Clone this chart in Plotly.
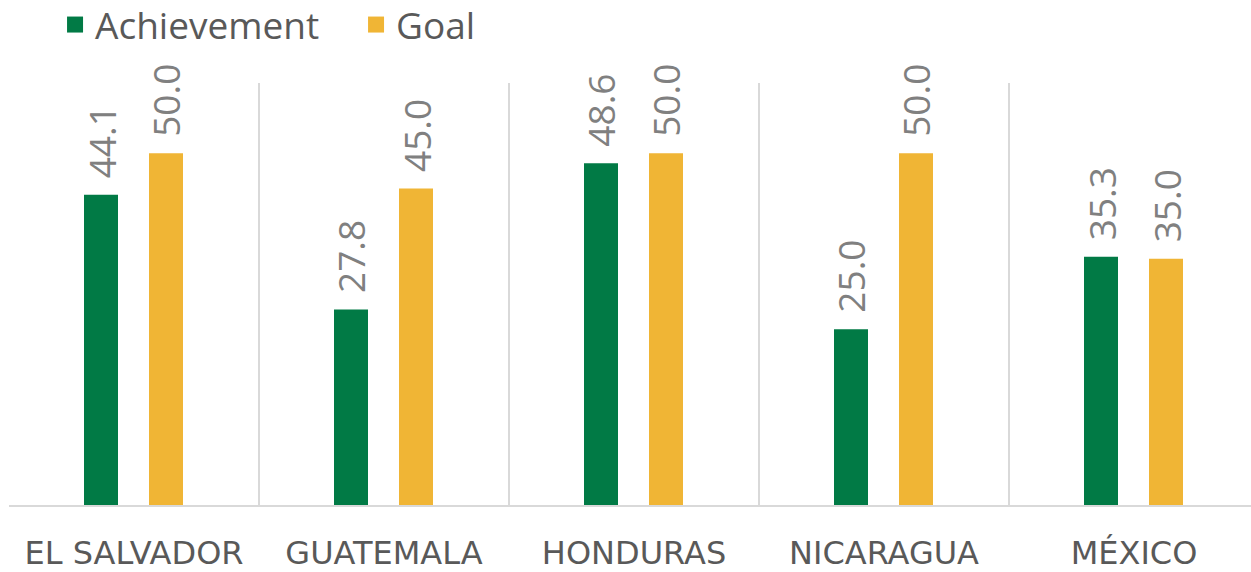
import plotly.graph_objects as go

countries = ["EL SALVADOR", "GUATEMALA", "HONDURAS", "NICARAGUA", "MÉXICO"]
achievement = [44.1, 27.8, 48.6, 25.0, 35.3]
goal = [50.0, 45.0, 50.0, 50.0, 35.0]

GREEN = "#017A45"
GOLD = "#F0B535"
LABEL_GRAY = "#808080"
TEXT_GRAY = "#595959"
GRID = "#D9D9D9"

# bar geometry (in category units)
BAR_W = 0.136
OFF_ACH = -0.2
OFF_GOAL = 0.06

fig = go.Figure()

series = [("Achievement", achievement, GREEN, OFF_ACH),
          ("Goal", goal, GOLD, OFF_GOAL)]

for name, vals, color, off in series:
    fig.add_trace(go.Bar(
        x=countries, y=vals, name=name,
        marker=dict(color=color, line=dict(width=0)),
        width=BAR_W, offset=off, showlegend=False,
    ))
    # legend entry with a larger square swatch
    fig.add_trace(go.Scatter(
        x=[None], y=[None], mode="markers", name=name,
        marker=dict(symbol="square", size=16, color=color),
    ))
    # value labels, rotated, above each bar
    for i, v in enumerate(vals):
        fig.add_annotation(
            x=i + off + BAR_W / 2, y=v, xref="x", yref="y",
            text=f"{v:.1f}", textangle=-90, showarrow=False,
            yanchor="bottom", xanchor="center", yshift=14,
            font=dict(family="Open Sans", size=37, color=LABEL_GRAY),
        )

W, H = 1251, 572
ML, MT, MB, MR = 9, 83, 67, 0
cat_px = 250
plot_w = W - ML - MR

fig.update_layout(
    width=W, height=H,
    margin=dict(l=ML, r=MR, t=MT, b=MB, pad=0, autoexpand=False),
    plot_bgcolor="white", paper_bgcolor="white",
    barmode="overlay",
    legend=dict(
        orientation="h", xref="container", yref="container",
        x=0.044, y=1 - 25 / H, xanchor="left", yanchor="middle",
        font=dict(family="Open Sans", size=37, color=TEXT_GRAY),
        entrywidth=256, entrywidthmode="pixels",
        itemsizing="trace", bgcolor="rgba(0,0,0,0)",
    ),
    xaxis=dict(
        type="category", categoryorder="array", categoryarray=countries,
        range=[-0.5, -0.5 + plot_w / cat_px], automargin=False,
        tickson="boundaries", showgrid=True, gridcolor=GRID, gridwidth=2,
        showline=True, linecolor=GRID, linewidth=2,
        ticks="", ticklabelstandoff=19,
        tickfont=dict(family="DejaVu Sans", size=32, color=TEXT_GRAY),
        zeroline=False,
    ),
    yaxis=dict(
        range=[0, 60], showgrid=False, showticklabels=False, automargin=False,
        zeroline=False, showline=False, ticks="",
    ),
)

fig.write_html("out.html")
